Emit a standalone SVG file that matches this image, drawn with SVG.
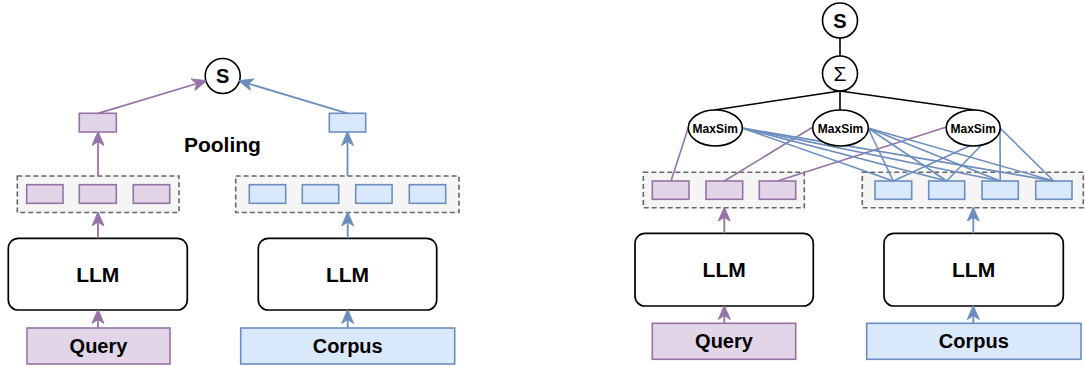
<svg xmlns="http://www.w3.org/2000/svg" width="1085" height="367" viewBox="0 0 1085 367">
<style>
text{font-family:"Liberation Sans",Arial,Helvetica,sans-serif;font-weight:bold;fill:#000;text-anchor:middle}
.llm{fill:#fff;stroke:#000;stroke-width:1.7}
.grp{fill:#f5f5f5;stroke:#666;stroke-width:1.6;stroke-dasharray:5 3}
.pq{fill:#e1d5e7;stroke:#9673a6;stroke-width:1.6}
.bc{fill:#dae8fc;stroke:#6c8ebf;stroke-width:1.6}
.circ{fill:#fff;stroke:#000;stroke-width:1.6}
.ap{stroke:#9673a6;stroke-width:1.8;fill:none;marker-end:url(#mp)}
.ab{stroke:#6c8ebf;stroke-width:1.8;fill:none;marker-end:url(#mb)}
.lp{stroke:#9673a6;stroke-width:1.6;fill:none}
.lb{stroke:#6c8ebf;stroke-width:1.6;fill:none}
.lk{stroke:#000;stroke-width:1.6;fill:none}
</style>
<defs>
<marker id="mp" viewBox="0 0 14 13" refX="13" refY="6.5" markerWidth="14" markerHeight="13" markerUnits="userSpaceOnUse" orient="auto">
<path d="M0,0.5 L14,6.5 L0,12.5 L4,6.5 Z" fill="#9673a6" stroke="#9673a6" stroke-width="1"/>
</marker>
<marker id="mb" viewBox="0 0 14 13" refX="13" refY="6.5" markerWidth="14" markerHeight="13" markerUnits="userSpaceOnUse" orient="auto">
<path d="M0,0.5 L14,6.5 L0,12.5 L4,6.5 Z" fill="#6c8ebf" stroke="#6c8ebf" stroke-width="1"/>
</marker>
</defs>
<rect width="1085" height="367" fill="#fff"/>

<!-- Left panel -->
<g id="L-query"><rect class="pq" x="27" y="328" width="143" height="36"/><text x="98.5" y="352.5" font-size="20">Query</text></g>
<g id="L-corpus"><rect class="bc" x="240.7" y="328" width="214" height="36"/><text x="347.7" y="352.5" font-size="20">Corpus</text></g>
<g id="L-llm1"><rect class="llm" x="8.3" y="238.3" width="179" height="71.7" rx="10"/><text x="97.8" y="281.5" font-size="21">LLM</text></g>
<g id="L-llm2"><rect class="llm" x="258.3" y="238.3" width="178.4" height="71.7" rx="10"/><text x="347.5" y="281.5" font-size="21">LLM</text></g>
<g id="L-qtokens">
<rect class="grp" x="17.3" y="176" width="161.7" height="36.5"/>
<rect class="pq" x="26.7" y="184.7" width="36.3" height="18.6"/>
<rect class="pq" x="79.3" y="184.7" width="37" height="18.6"/>
<rect class="pq" x="133.3" y="184.7" width="36.4" height="18.6"/>
</g>
<g id="L-dtokens">
<rect class="grp" x="235.7" y="176" width="223.3" height="36.5"/>
<rect class="bc" x="249.3" y="184.7" width="36.4" height="18.6"/>
<rect class="bc" x="302.3" y="184.7" width="36.4" height="18.6"/>
<rect class="bc" x="355.7" y="184.7" width="36.4" height="18.6"/>
<rect class="bc" x="409.3" y="184.7" width="36.4" height="18.6"/>
</g>
<g id="L-qpool"><rect class="pq" x="79.3" y="113.3" width="37" height="18.7"/></g>
<g id="L-dpool"><rect class="bc" x="329.3" y="113.3" width="36.4" height="18.7"/></g>
<g id="L-S"><circle class="circ" cx="222.7" cy="76" r="17.5"/><text x="222.7" y="83" font-size="20">S</text></g>
<g id="L-pooling"><text x="222.4" y="152" font-size="21">Pooling</text></g>

<!-- Right panel -->
<g id="R-query"><rect class="pq" x="652.3" y="323.3" width="143.4" height="36"/><text x="724" y="348" font-size="20">Query</text></g>
<g id="R-corpus"><rect class="bc" x="866.7" y="323.3" width="214.3" height="36"/><text x="973.8" y="348" font-size="20">Corpus</text></g>
<g id="R-llm1"><rect class="llm" x="635" y="233.3" width="178.3" height="72.7" rx="10"/><text x="724.2" y="276.5" font-size="21">LLM</text></g>
<g id="R-llm2"><rect class="llm" x="884" y="233.3" width="179.3" height="72.7" rx="10"/><text x="973.6" y="276.5" font-size="21">LLM</text></g>
<g id="R-qtokens">
<rect class="grp" x="643.3" y="172.3" width="161" height="35.4"/>
<rect class="pq" x="652.3" y="181" width="36.7" height="18.3"/>
<rect class="pq" x="706" y="181" width="36.7" height="18.3"/>
<rect class="pq" x="759.3" y="181" width="36.4" height="18.3"/>
</g>
<g id="R-dtokens">
<rect class="grp" x="862.3" y="172.3" width="221" height="35.4"/>
<rect class="bc" x="875" y="181" width="36.7" height="18.3"/>
<rect class="bc" x="928.7" y="181" width="36" height="18.3"/>
<rect class="bc" x="982" y="181" width="36.3" height="18.3"/>
<rect class="bc" x="1035.7" y="181" width="36.3" height="18.3"/>
</g>

<g id="connectors">
<!-- left -->
<line class="ap" x1="98" y1="328" x2="98" y2="310.5"/>
<line class="ab" x1="347.7" y1="328" x2="347.7" y2="310.5"/>
<line class="ap" x1="98" y1="238.3" x2="98" y2="213"/>
<line class="ab" x1="347.7" y1="238.3" x2="347.7" y2="213"/>
<line class="ap" x1="98" y1="176" x2="98" y2="132.5"/>
<line class="ab" x1="347.5" y1="176" x2="347.5" y2="132.5"/>
<line class="ap" x1="98" y1="113.3" x2="205.5" y2="81"/>
<line class="ab" x1="347.5" y1="113.3" x2="239.8" y2="81"/>
<!-- right -->
<line class="ap" x1="724.3" y1="323.3" x2="724.3" y2="306.5"/>
<line class="ab" x1="973.3" y1="323.3" x2="973.3" y2="306.5"/>
<line class="ap" x1="724.3" y1="233.3" x2="724.3" y2="208.2"/>
<line class="ab" x1="973.3" y1="233.3" x2="973.3" y2="208.2"/>
<line class="lk" x1="840" y1="38" x2="840" y2="56"/>
<line class="lk" x1="840" y1="91" x2="714" y2="110"/>
<line class="lk" x1="840" y1="91" x2="840" y2="110"/>
<line class="lk" x1="840" y1="91" x2="975" y2="110"/>
<line class="lp" x1="688.5" y1="127" x2="671" y2="181"/>
<line class="lp" x1="813" y1="127" x2="724.3" y2="181"/>
<line class="lp" x1="946.5" y1="127" x2="777.5" y2="181"/>
<line class="lb" x1="742" y1="128" x2="893.3" y2="181"/>
<line class="lb" x1="742" y1="128" x2="946.7" y2="181"/>
<line class="lb" x1="742" y1="128" x2="1000.2" y2="181"/>
<line class="lb" x1="742" y1="128" x2="1053.8" y2="181"/>
<line class="lb" x1="868" y1="128" x2="893.3" y2="181"/>
<line class="lb" x1="868" y1="128" x2="946.7" y2="181"/>
<line class="lb" x1="868" y1="128" x2="1000.2" y2="181"/>
<line class="lb" x1="868" y1="128" x2="1053.8" y2="181"/>
<line class="lb" x1="971.5" y1="145" x2="893.3" y2="181"/>
<line class="lb" x1="983" y1="143.5" x2="946.7" y2="181"/>
<line class="lb" x1="1000" y1="128" x2="1000.2" y2="181"/>
<line class="lb" x1="1000" y1="128" x2="1053.8" y2="181"/>
</g>

<g id="R-S"><circle class="circ" cx="840" cy="20.5" r="17.5"/><text x="840" y="27.5" font-size="20">S</text></g>
<g id="R-sum"><circle class="circ" cx="840" cy="73.5" r="17.5"/><text x="840" y="81" font-size="21" style="font-weight:normal">Σ</text></g>
<g id="R-maxsim1"><ellipse class="circ" cx="715.3" cy="128" rx="27" ry="18"/><text x="715.3" y="132.5" font-size="12">MaxSim</text></g>
<g id="R-maxsim2"><ellipse class="circ" cx="840.5" cy="128" rx="27.8" ry="18"/><text x="840.5" y="132.5" font-size="12">MaxSim</text></g>
<g id="R-maxsim3"><ellipse class="circ" cx="973.2" cy="128" rx="27" ry="18"/><text x="973.2" y="132.5" font-size="12">MaxSim</text></g>
</svg>
